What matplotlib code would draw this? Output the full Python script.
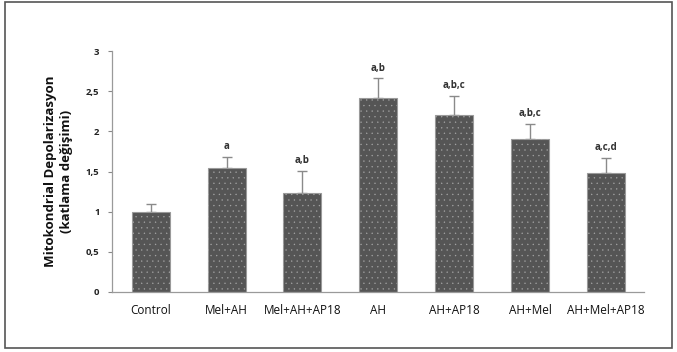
import matplotlib
matplotlib.use("Agg")
import matplotlib.pyplot as plt
from matplotlib.patches import Rectangle

groups = ["Control", "Mel+AH", "Mel+AH+AP18", "AH", "AH+AP18", "AH+Mel", "AH+Mel+AP18"]
means = [0.99, 1.54, 1.23, 2.41, 2.20, 1.90, 1.48]
errors = [0.11, 0.14, 0.28, 0.25, 0.24, 0.19, 0.19]
letters = ["", "a", "a,b", "a,b", "a,b,c", "a,b,c", "a,c,d"]
yticks = [0, 0.5, 1, 1.5, 2, 2.5, 3]
ytick_labels = ["0", "0,5", "1", "1,5", "2", "2,5", "3"]

plt.rcParams["font.family"] = ["Open Sans", "DejaVu Sans"]
plt.rcParams["hatch.linewidth"] = 0.2

fig = plt.figure(figsize=(6.77, 3.52), dpi=100)
ax = fig.add_axes([0.1654, 0.1705, 0.7856, 0.6845])

x = list(range(len(groups)))
# dark bars, then a dotted overlay with the light hatch
ax.bar(x, means, width=0.5, color="#555555", edgecolor="#9a9a9a", linewidth=0.8, zorder=2)
ax.bar(x, means, width=0.5, color="none", edgecolor="#a8a8a8", hatch="...", linewidth=0, zorder=3)
ax.errorbar(x, means, yerr=[[0] * len(errors), errors], fmt="none", ecolor="#8a8a8a",
            elinewidth=1.0, capsize=3.5, capthick=1.0, zorder=1)

for xi, m, e, lab in zip(x, means, errors, letters):
    if lab:
        ax.text(xi, m + e + 0.06, lab, ha="center", va="bottom", fontsize=7,
                fontweight="bold", color="#333333")

ax.set_xlim(-0.51, 6.5)
ax.set_ylim(0, 3)
ax.set_yticks(yticks)
ax.set_yticklabels(ytick_labels, fontsize=6.8, fontweight="bold", color="#222222")
ax.set_xticks(x)
ax.set_xticklabels(groups, fontsize=8.5, color="#111111")
ax.tick_params(axis="x", length=0, pad=9)
ax.tick_params(axis="y", length=3, width=0.8, color="#888888", pad=6)
for side in ["top", "right"]:
    ax.spines[side].set_visible(False)
for side in ["left", "bottom"]:
    ax.spines[side].set_color("#9a9a9a")
    ax.spines[side].set_linewidth(0.9)

ax.set_ylabel("Mitokondrial Depolarizasyon\n(katlama değişimi)", fontsize=9.5,
              fontweight="bold", color="#111111", labelpad=9, linespacing=1.3)

# frame around the whole figure
fig.patches.append(Rectangle((0.008, 0.012), 0.985, 0.982, transform=fig.transFigure,
                             fill=False, edgecolor="#555555", linewidth=1.2))

fig.savefig("out.png", dpi=100)
